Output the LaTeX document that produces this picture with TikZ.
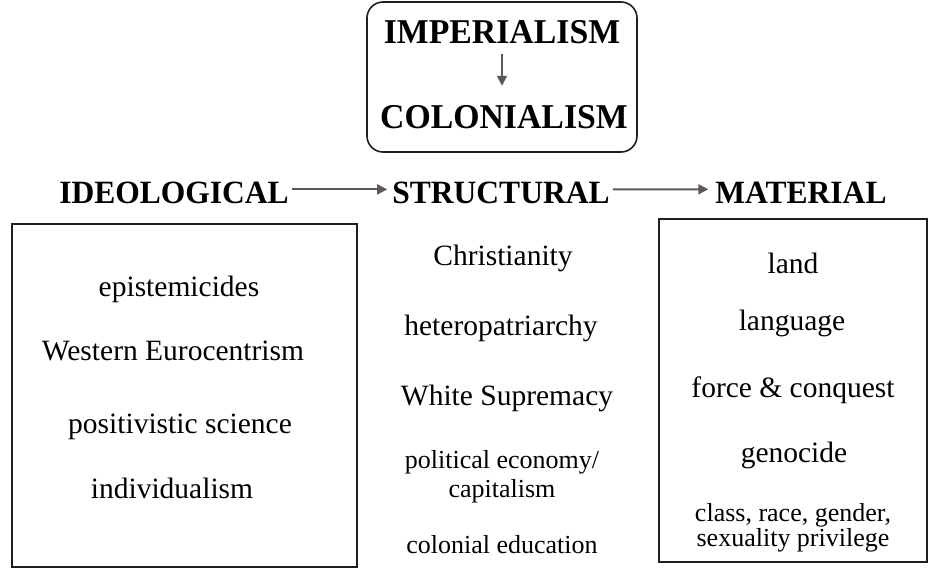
\documentclass[tikz,border=0pt]{standalone}
\usepackage{fontspec}
\setmainfont{Liberation Serif}
\usetikzlibrary{arrows.meta}
\definecolor{arrowgray}{RGB}{93,88,88}
\definecolor{framegray}{RGB}{30,30,30}
% slightly condensed bold capitals
\newcommand{\narrow}[1]{\scalebox{0.97}[1]{#1}}
\tikzset{
  title/.style={font=\bfseries\fontsize{34.8}{37}\selectfont, inner sep=0pt, anchor=base},
  heading/.style={font=\bfseries\fontsize{32.5}{35}\selectfont, inner sep=0pt, anchor=base},
  item/.style={font=\fontsize{29.5}{32}\selectfont, inner sep=0pt, anchor=base},
  smallitem/.style={font=\fontsize{26}{29}\selectfont, inner sep=0pt, anchor=base, align=center},
  frame/.style={draw=framegray, line width=1.6pt},
  flow/.style={draw=arrowgray, line width=2pt, -{Triangle[length=10pt,width=10pt]}}
}
\begin{document}
\begin{tikzpicture}[x=1pt,y=-1pt]
\useasboundingbox (0,0) rectangle (930,571);

% top box: imperialism leads to colonialism
\node[frame, rounded corners=16pt, minimum width=270pt, minimum height=150pt] (top) at (502,77) {};
\node[title] (imp) at (502,43) {\narrow{IMPERIALISM}};
\node[title] (col) at (504,128) {\narrow{COLONIALISM}};
\coordinate (down) at (imp.south |- col.north);
\draw[flow, line width=1.8pt, -{Triangle[length=10pt,width=10pt]}] ([yshift=-10pt]imp.south) -- ([yshift=19pt]down);

% the three headings and the arrows between them
\node[heading] (ideo) at (174,203) {\narrow{IDEOLOGICAL}};
\node[heading] (struct) at (501,203) {\narrow{STRUCTURAL}};
\node[heading] (mat) at (801,203) {\narrow{MATERIAL}};
\draw[flow] ([xshift=3pt,yshift=3pt]ideo.east) -- ([xshift=-5pt,yshift=3pt]struct.west);
\draw[flow] ([xshift=3pt,yshift=3pt]struct.east) -- ([xshift=-7pt,yshift=3pt]mat.west);

% ideological box
\draw[frame] (12,224) rectangle (357,567);
\node[item] (epi) at (179,296) {epistemicides};
\node[item] (west) at (173,360) {Western Eurocentrism};
\node[item] (pos) at (180,433) {positivistic science};
\node[item] (ind) at (172,498) {individualism};

% structural column (two-line entries are placed by their last baseline)
\node[item] (chr) at (503,265) {Christianity};
\node[item] (het) at (501,335) {heteropatriarchy};
\node[item] (white) at (507,405) {White Supremacy};
\node[smallitem] (pol) at (502,497) {political economy/\\capitalism};
\node[smallitem] (edu) at (502,553) {colonial education};

% material box
\draw[frame] (659,219) rectangle (927,562);
\node[item] (land) at (793,273) {land};
\node[item] (lang) at (792,330) {language};
\node[item] (force) at (793,397) {force \& conquest};
\node[item] (geno) at (794,462) {genocide};
\node[smallitem, font=\fontsize{26}{23.5}\selectfont] (priv) at (793,546) {class, race, gender,\\sexuality privilege};
\end{tikzpicture}
\end{document}
